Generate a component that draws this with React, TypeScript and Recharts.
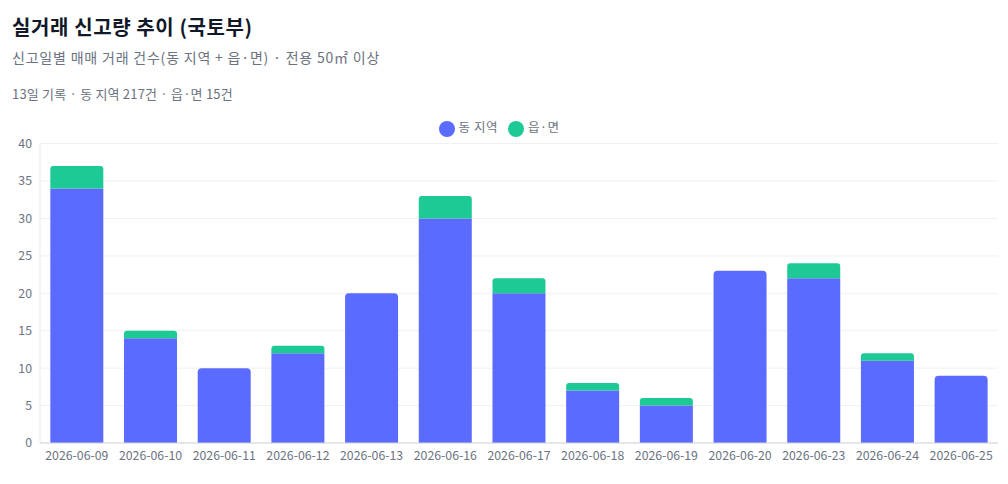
import React from "react"
import { BarChart, Bar, XAxis, YAxis, CartesianGrid, Legend, Rectangle } from "recharts"

const dates = [
	"2026-06-09", "2026-06-10", "2026-06-11", "2026-06-12", "2026-06-13", "2026-06-16", "2026-06-17",
	"2026-06-18", "2026-06-19", "2026-06-20", "2026-06-23", "2026-06-24", "2026-06-25",
]
const dongCounts = [34, 14, 10, 12, 20, 30, 20, 7, 5, 23, 22, 11, 9]
const eupCounts = [3, 1, 0, 1, 0, 3, 2, 1, 1, 0, 2, 1, 0]
const yTicks = [0, 5, 10, 15, 20, 25, 30, 35, 40]

const data = dates.map((date, i) => ({ date, dong: dongCounts[i], eup: eupCounts[i] }))

const FONT = "'Noto Sans CJK KR', 'Noto Sans', sans-serif"
const DONG = "#5B6BFF"
const EUP = "#1DC995"

const DongShape = (props: any) => {
	const top = props.payload?.eup === 0
	return <Rectangle {...props} radius={top ? [4, 4, 0, 0] : 0} />
}

const EupShape = (props: any) => {
	if (!props.height) return null
	return <Rectangle {...props} radius={[3, 3, 0, 0]} />
}

export default function App() {
	return (
		<div style={{ position: "relative", width: 1008, height: 484, fontFamily: FONT, background: "#fff" }}>
			<style>{"body{margin:0}"}</style>
			<div style={{ position: "absolute", left: 12, top: 12, fontSize: 20, fontWeight: 700, color: "#111827", letterSpacing: 0.6 }}>
				실거래 신고량 추이 (국토부)
			</div>
			<div style={{ position: "absolute", left: 12, top: 47, fontSize: 14, color: "#6b7280", letterSpacing: 0.8 }}>
				신고일별 매매 거래 건수(동 지역 + 읍·면) · 전용 50㎡ 이상
			</div>
			<div style={{ position: "absolute", left: 12, top: 84, fontSize: 13, color: "#6b7280", letterSpacing: 0.2 }}>
				13일 기록 · 동 지역 217건 · 읍·면 15건
			</div>
			<div style={{ position: "absolute", left: 0, top: 110 }}>
				<BarChart width={1008} height={374} data={data} margin={{ top: 14, right: 10, left: 10, bottom: 11 }} barCategoryGap="14%">
					<CartesianGrid vertical={false} stroke="#eef0f3" />
					<XAxis
						dataKey="date"
						height={30}
						tick={{ fill: "#6b7280", fontSize: 12.3, fontFamily: FONT }}
						tickLine={false}
						axisLine={{ stroke: "#d1d5db" }}
						interval={0}
					/>
					<YAxis
						width={30}
						domain={[0, 40]}
						ticks={yTicks}
						tick={{ fill: "#6b7280", fontSize: 12.3, fontFamily: FONT }}
						tickLine={false}
						axisLine={{ stroke: "#e5e7eb" }}
					/>
					<Legend
						verticalAlign="top"
						align="center"
						iconType="circle"
						iconSize={16}
						wrapperStyle={{ top: 7, fontSize: 12.5, fontFamily: FONT, color: "#6b7280" }}
						formatter={(value: string) => <span style={{ color: "#6b7280", letterSpacing: 0.5 }}>{value}</span>}
					/>
					<Bar dataKey="dong" name="동 지역" stackId="a" fill={DONG} shape={DongShape} isAnimationActive={false} />
					<Bar dataKey="eup" name="읍·면" stackId="a" fill={EUP} shape={EupShape} isAnimationActive={false} />
				</BarChart>
			</div>
		</div>
	)
}
